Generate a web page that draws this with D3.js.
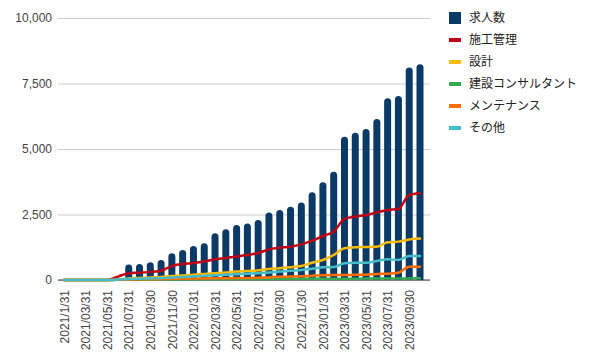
<!DOCTYPE html>
<html><head><meta charset="utf-8">
<script src="https://cdn.jsdelivr.net/npm/d3@7"></script>
<style>
html,body{margin:0;padding:0;background:#fff;}
text{font-family:"Liberation Sans",Arial,"Noto Sans CJK JP",sans-serif;}
</style></head>
<body><svg id="c" width="592" height="362"></svg>
<script>
const categories = ["2021/1/31","2021/02/28","2021/03/31","2021/04/30","2021/05/31","2021/06/30","2021/07/31","2021/08/31","2021/09/30","2021/10/31","2021/11/30","2021/12/31",
"2022/01/31","2022/02/28","2022/03/31","2022/04/30","2022/05/31","2022/06/30","2022/07/31","2022/08/31","2022/09/30","2022/10/31","2022/11/30","2022/12/31",
"2023/01/31","2023/02/28","2023/03/31","2023/04/30","2023/05/31","2023/06/30","2023/07/31","2023/08/31","2023/09/30","2023/10/31"];
const tickLabels = categories.filter((d,i)=>i%2===0);
const jobs =      [0,0,0,0,0,0,590,610,680,760,1020,1145,1300,1400,1780,1935,2100,2160,2290,2580,2670,2800,2960,3350,3730,4135,5470,5620,5760,6145,6935,7020,8115,8230];
const sekou =     [0,0,0,0,0,130,260,280,310,350,540,610,650,710,790,840,900,960,1030,1170,1230,1270,1360,1500,1680,1845,2330,2420,2480,2580,2670,2710,3245,3310];
const sekkei =    [0,0,0,0,0,20,60,80,100,110,150,170,200,230,260,290,320,340,370,420,450,485,535,660,765,955,1210,1250,1260,1270,1440,1465,1550,1580];
const consult =   [0,0,0,0,0,5,10,12,15,18,20,22,25,27,30,32,34,36,38,40,42,44,45,47,48,50,50,52,54,56,58,60,62,64];
const maint =     [0,0,0,0,0,10,20,25,30,35,45,50,55,60,65,70,75,80,90,100,120,130,140,165,180,190,190,200,200,230,240,280,510,510];
const other =     [0,0,0,0,0,15,40,50,60,70,100,110,140,160,180,200,220,240,260,290,320,355,380,430,485,495,635,660,660,725,790,765,915,915];
const yTicks = [0,2500,5000,7500,10000];
const seriesNames = ["求人数","施工管理","設計","建設コンサルタント","メンテナンス","その他"];
const colors = ["#0b3a66","#c00014","#f6bb0a","#34a853","#ff6d01","#46bdc6"];

const svg = d3.select("#c");
const pL=58, pR=430, pT=18, pB=280;
const x = d3.scalePoint().domain(categories).range([64,420]);
const y = d3.scaleLinear().domain([0,10000]).range([pB,pT]);

// grid
const yAxis = d3.axisLeft(y).tickValues(yTicks).tickFormat(d3.format(",")).tickSize(-(pR-pL)).tickPadding(6);
const gy = svg.append("g").attr("transform",`translate(${pL},0)`).call(yAxis);
gy.select(".domain").remove();
gy.selectAll(".tick line").attr("stroke","#cccccc");
gy.selectAll(".tick text").attr("fill","#444").style("font-size","12px");

// bars
const bw = 7, r = 3.5;
svg.append("g").selectAll("path").data(jobs.map((v,i)=>({v,c:categories[i]})).filter(d=>d.v>0))
 .enter().append("path")
 .attr("fill",colors[0])
 .attr("d",d=>{
   const cx=x(d.c), x0=cx-bw/2, x1=cx+bw/2, yt=y(d.v), yb=y(0);
   return `M${x0},${yb}L${x0},${yt+r}A${r},${r} 0 0 1 ${x1},${yt+r}L${x1},${yb}Z`;
 });

// baseline
svg.append("line").attr("x1",pL).attr("x2",pR).attr("y1",y(0)).attr("y2",y(0)).attr("stroke","#333").attr("stroke-width",1);

// lines
const lineData = [sekou, sekkei, consult, maint, other];
const line = d3.line().x((d,i)=>x(categories[i])).y(d=>y(d)).curve(d3.curveMonotoneX);
[0,1,2,3,4].forEach(k=>{
  svg.append("path").datum(lineData[k]).attr("fill","none").attr("stroke",colors[k+1])
   .attr("stroke-width",2.5).attr("stroke-linejoin","round").attr("stroke-linecap","round").attr("d",line);
});

// x axis labels
const xAxis = d3.axisBottom(x).tickValues(tickLabels).tickSize(0).tickPadding(0);
const gx = svg.append("g").attr("transform",`translate(0,${pB})`).call(xAxis);
gx.select(".domain").remove();
gx.selectAll(".tick text").attr("fill","#444").style("font-size","12px")
  .attr("text-anchor","end").attr("dy","0.35em").attr("y",0)
  .attr("transform","translate(0,10) rotate(-90)");

// legend
const lg = svg.append("g");
const ly = [18,40,62,84,106,128];
seriesNames.forEach((n,i)=>{
  if(i===0){
    lg.append("rect").attr("x",449).attr("y",ly[i]-6).attr("width",12).attr("height",12).attr("fill",colors[0]);
  } else {
    lg.append("line").attr("x1",449).attr("x2",461).attr("y1",ly[i]).attr("y2",ly[i]).attr("stroke",colors[i]).attr("stroke-width",4);
  }
  lg.append("text").attr("x",469).attr("y",ly[i]).attr("dy","0.35em").attr("fill","#222").style("font-size","12px").text(n);
});
</script></body></html>
